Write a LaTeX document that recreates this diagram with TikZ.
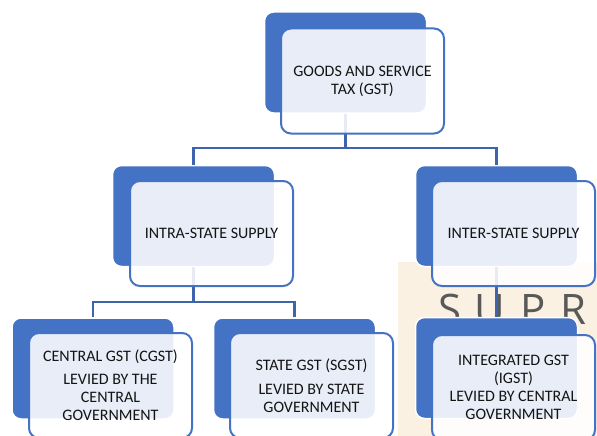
\documentclass[tikz,border=0pt]{standalone}
\usepackage{fontspec}
\setmainfont{Carlito}
\newfontfamily\wmfont{Open Sans}
\definecolor{gstblue}{HTML}{4472C4}
\definecolor{linkblue}{HTML}{3E64AC}
\definecolor{wmbeige}{HTML}{FAF1E3}

\begin{document}
\begin{tikzpicture}[x=1pt,y=-1pt]
    \tikzstyle{every node}+=[inner sep=0pt]
    \tikzstyle{back}=[fill=gstblue, draw=white, line width=1.5pt, rounded corners=9pt, minimum width=162pt, minimum height=101pt]
    \tikzstyle{front}=[draw=gstblue, line width=2pt, fill=white, fill opacity=0.88, text opacity=1, rounded corners=10pt, minimum width=163pt, minimum height=105pt, align=center, text=black!92, font=\fontsize{16}{18}\selectfont]
    \tikzstyle{link}=[draw=linkblue, line width=2.6pt]
    \tikzstyle{wmtext}=[anchor=base, text=black!65, font=\wmfont\fontsize{42}{42}\selectfont]
    \useasboundingbox (0,0) rectangle (597,436);
    % watermark behind the chart
    \fill [wmbeige] (398,262) rectangle (597,436);
    \foreach \ch/\px in {S/450,U/490,P/533,R/573}
        \node [wmtext] (wm\ch) at (\px,324) {\ch};
    % back boxes
    \node [back] (gstB) at (345.5,62.5) {};
    \node [back] (intraB) at (193.5,216) {};
    \node [back] (interB) at (496.5,216) {};
    \node [back] (cgstB) at (93,368.5) {};
    \node [back] (sgstB) at (294.5,368.5) {};
    \node [back] (igstB) at (496.5,368) {};
    % connectors
    \coordinate (top) at (345.5,148);
    \coordinate (mid) at (193.5,302);
    \draw [link] (gstB.south) -- (top) -| (intraB.north);
    \draw [link] (top) -| (interB.north);
    \draw [link] (intraB.south) -- (mid) -| (cgstB.north);
    \draw [link] (mid) -| (sgstB.north);
    \draw [link] (interB.south) -- (igstB.north);
    % front boxes
    \node [front] (gst) at (362.5,81) {GOODS AND SERVICE\\TAX (GST)};
    \node [front] (intra) at (211.5,233.5) {INTRA-STATE SUPPLY};
    \node [front] (inter) at (513.5,233.5) {INTER-STATE SUPPLY};
    \node [front] (cgst) at (110.5,385.5) {CENTRAL GST (CGST)\\[5pt]LEVIED BY THE\\CENTRAL\\GOVERNMENT};
    \node [front] (sgst) at (311.5,385.5) {STATE GST (SGST)\\[6pt]LEVIED BY STATE\\GOVERNMENT};
    \node [front] (igst) at (513.5,387.5) {INTEGRATED GST\\(IGST)\\LEVIED BY CENTRAL\\GOVERNMENT};
\end{tikzpicture}
\end{document}
